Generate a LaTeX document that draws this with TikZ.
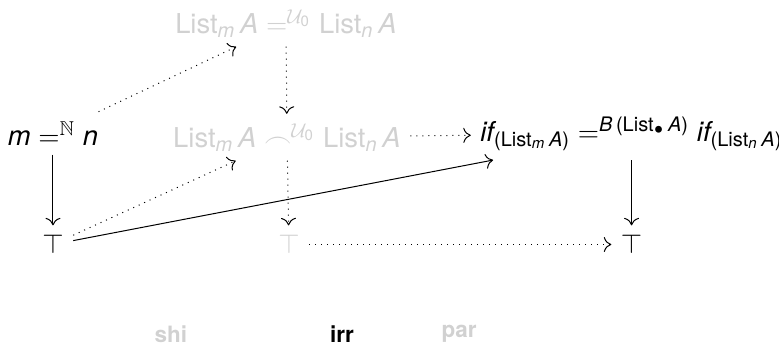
\documentclass[tikz,border=0pt,11pt]{standalone}
\usepackage{amsmath,amssymb}
\usepackage{fontspec}
\setmainfont{TeX Gyre Heros}
\usetikzlibrary{arrows.meta}
\newcommand{\va}[1]{\text{\itshape #1}}
\newcommand{\Lst}[1]{\text{List}_{#1}\,\va{A}}
\begin{document}
\begin{tikzpicture}[scale=1.0, >={To[length=3pt,width=6pt]},
    faded/.style={text=black!18},
    tag/.style={font=\footnotesize\bfseries}]
    \useasboundingbox (0,0) rectangle (10.953,4.865);
    % objects of the diagram, placed on their baselines
    \node[anchor=base] (mn) at (0.745,2.826) {$\va{m} =^{\mathbb{N}} \va{n}$};
    \node[anchor=base, faded] (top) at (4.021,4.401) {$\Lst{\va{m}} =^{\mathcal{U}_{\text{0}}} \Lst{\va{n}}$};
    \node[anchor=base, faded] (mid) at (4.035,2.798) {$\Lst{\va{m}} \frown^{\mathcal{U}_{\text{0}}} \Lst{\va{n}}$};
    \node[anchor=base] (ifeq) at (8.880,2.882) {$\va{if}_{\text{(}\Lst{\va{m}}\text{)}} =^{\va{B}\,\text{(}\Lst{\bullet}\text{)}} \va{if}_{\text{(}\Lst{\va{n}}\text{)}}$};
    \node[anchor=base] (t1) at (0.745,1.294) {$\top$};
    \node[anchor=base, faded] (t2) at (4.063,1.294) {$\top$};
    \node[anchor=base] (t3) at (8.880,1.294) {$\top$};
    \draw[->, dotted] (mn) -- (top);
    \draw[->, dotted] (top) -- (mid);
    \draw[->, dotted] (mid) -- (ifeq);
    \draw[->, dotted] (t1) -- (mid);
    \draw[->, dotted] (mid) -- (t2);
    \draw[->, dotted] (t2) -- (t3);
    \draw[->] (mn) -- (t1);
    \draw[->] (ifeq) -- (t3);
    \draw[->] (t1) -- (ifeq);
    \node[tag, faded] (shi) at (2.404,0.17) {shi};
    \node[tag] (irr) at (4.809,0.17) {irr};
    \node[tag, faded] (par) at (6.454,0.17) {par};
\end{tikzpicture}
\end{document}
